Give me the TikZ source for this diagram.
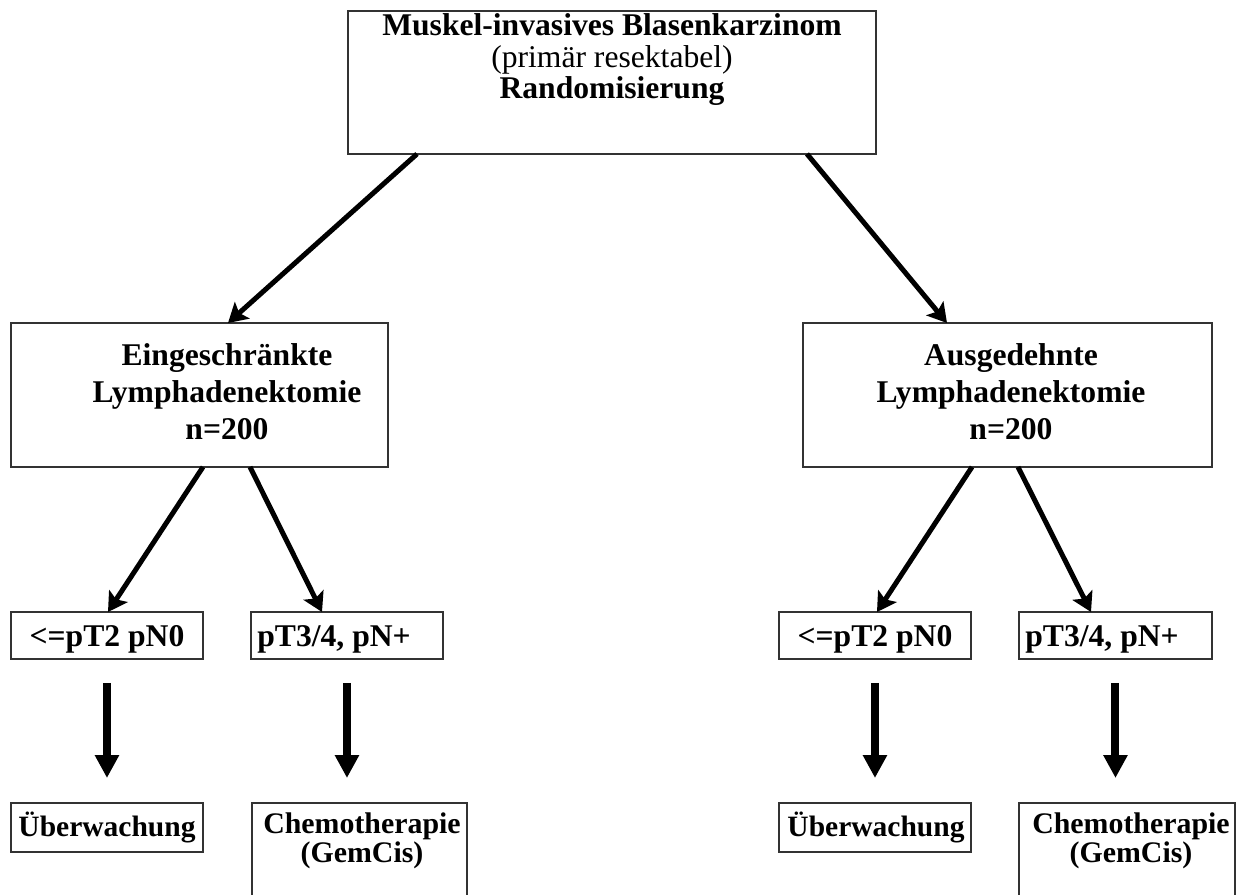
\documentclass[tikz,border=0pt]{standalone}
\usepackage{fontspec}
\setmainfont{Liberation Serif}
\usetikzlibrary{arrows.meta,calc}

\begin{document}
\begin{tikzpicture}[x=0.02cm,y=-0.02cm,
  box/.style={draw=black!80,line width=0.03cm,inner sep=0pt,outer sep=0pt,
              anchor=north west},
  lbl/.style={font=\bfseries\fontsize{18}{21}\selectfont,inner sep=0pt,
              align=center,anchor=base},
  arr/.style={-{Stealth[length=0.38cm,width=0.44cm,inset=0.08cm]},line width=0.1cm},
  fat/.style={-{Triangle[length=0.46cm,width=0.46cm]},line width=0.16cm,
              shorten <=0.48cm,shorten >=0.5cm}]
\useasboundingbox (0,0) rectangle (1238,895);
\clip (0,0) rectangle (1238,895);
%%
%% Boxes
\node[box,minimum width=10.56cm,minimum height=2.86cm](rand) at (348,11) {};
\node[box,minimum width=7.54cm,minimum height=2.88cm](midL) at (11,323) {};
\node[box,minimum width=8.18cm,minimum height=2.88cm](midR) at (803,323) {};
\node[box,minimum width=3.84cm,minimum height=0.94cm](l3a) at (11,612) {};
\node[box,minimum width=3.84cm,minimum height=0.94cm](l3b) at (251,612) {};
\node[box,minimum width=3.84cm,minimum height=0.94cm](r3a) at (779,612) {};
\node[box,minimum width=3.86cm,minimum height=0.94cm](r3b) at (1019,612) {};
\node[box,minimum width=3.84cm,minimum height=0.98cm](l4a) at (11,803) {};
\node[box,minimum width=3.84cm,minimum height=0.98cm](r4a) at (779,803) {};
\node[box,minimum width=4.30cm,minimum height=2.0cm](l4b) at (252,803) {};
\node[box,minimum width=4.32cm,minimum height=2.0cm](r4b) at (1019,803) {};
%%
%% Texts (base = last line)
\node[lbl,font=\fontsize{18}{18.2}\selectfont](rand-t) at (612,99)
  {\textbf{Muskel-invasives Blasenkarzinom}\\(primär resektabel)\\\textbf{Randomisierung}};
\node[lbl](midL-t) at (227,439) {Eingeschränkte\\Lymphadenektomie\\n=200};
\node[lbl](midR-t) at (1011,439) {Ausgedehnte\\Lymphadenektomie\\n=200};
\node[lbl](l3a-t) at (107,646) {<=pT2 pN0};
\node[lbl,anchor=base west](l3b-t) at (257,646) {pT3/4, pN+};
\node[lbl](r3a-t) at (875,646) {<=pT2 pN0};
\node[lbl,anchor=base west](r3b-t) at (1025,646) {pT3/4, pN+};
\node[lbl,font=\bfseries\fontsize{16.8}{18}\selectfont](l4a-t) at (107,836) {Überwachung};
\node[lbl,font=\bfseries\fontsize{16.8}{18}\selectfont](r4a-t) at (876,836) {Überwachung};
\node[lbl,font=\bfseries\fontsize{17}{15.3}\selectfont](l4b-t) at (362,862) {Chemotherapie\\(GemCis)};
\node[lbl,font=\bfseries\fontsize{17}{15.3}\selectfont](r4b-t) at (1131,862) {Chemotherapie\\(GemCis)};
%%
%% Randomisation arms
\draw[arr] ($(rand.south west)+(69,0)$) -- ($(midL.north west)+(217,0)$);
\draw[arr] ($(rand.south west)+(459,0)$) -- ($(midR.north west)+(144,0)$);
%%
%% Staging branches
\draw[arr] ($(midL.south west)+(192,0)$) -- ($(l3a.north west)+(97,0)$);
\draw[arr] ($(midL.south west)+(239,0)$) -- ($(l3b.north west)+(71,0)$);
\draw[arr] ($(midR.south west)+(169,0)$) -- ($(r3a.north west)+(98,0)$);
\draw[arr] ($(midR.south west)+(215,0)$) -- ($(r3b.north west)+(72,0)$);
%%
%% Therapy arrows
\draw[fat] (l3a.south) -- (l3a.south |- l4a.north);
\draw[fat] (l3b.south) -- (l3b.south |- l4b.north);
\draw[fat] (r3a.south) -- (r3a.south |- r4a.north);
\draw[fat] (r3b.south) -- (r3b.south |- r4b.north);
\end{tikzpicture}
\end{document}
